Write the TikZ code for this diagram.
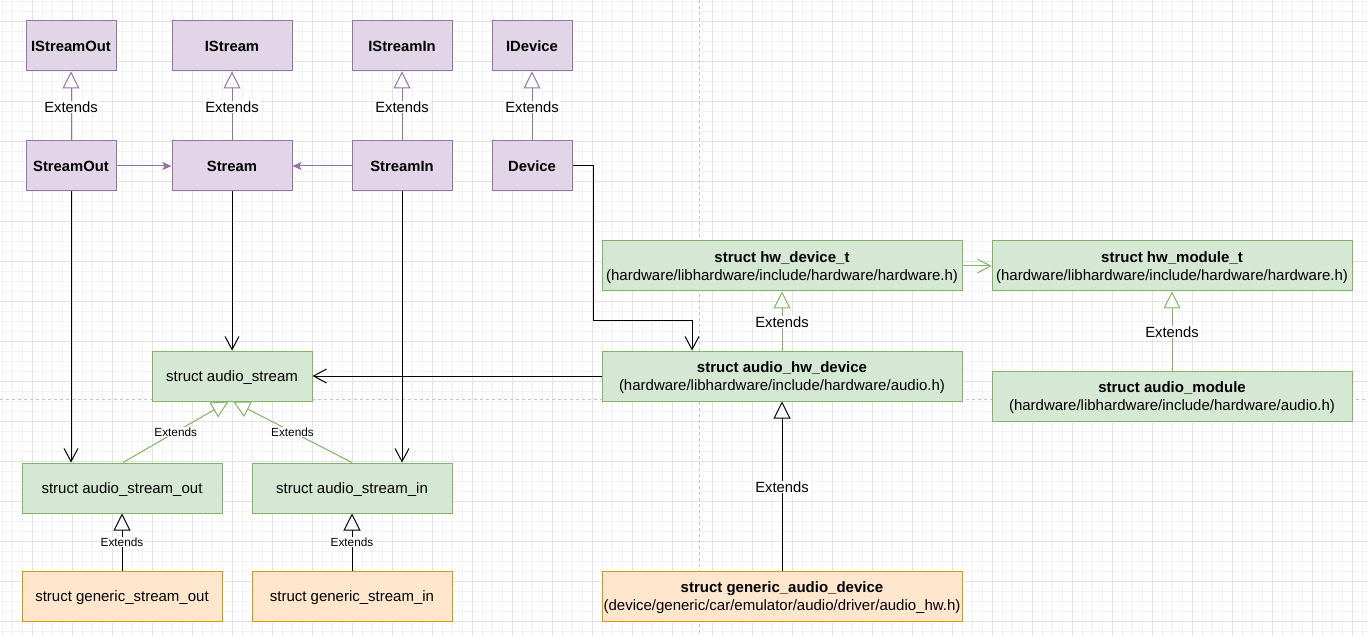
\documentclass[tikz,border=0pt]{standalone}
\usepackage{fontspec}
\setmainfont{Liberation Sans}
\usetikzlibrary{arrows.meta}
\definecolor{pfill}{HTML}{E1D5E7}
\definecolor{pstroke}{HTML}{9673A6}
\definecolor{gfill}{HTML}{D5E8D4}
\definecolor{gstroke}{HTML}{82B366}
\definecolor{ofill}{HTML}{FFE6CC}
\definecolor{ostroke}{HTML}{D79B00}
\definecolor{gridminor}{HTML}{F3F3F3}
\definecolor{gridmajor}{HTML}{E3E3E3}
\definecolor{pagebrk}{HTML}{C4C4C4}
\tikzset{
  box/.style={rectangle, draw, line width=1pt, minimum height=50, inner sep=0pt, align=center, text depth=0pt, font=\fontsize{15}{18.3}\selectfont},
  pbox/.style={box, fill=pfill, draw=pstroke, font=\fontsize{14.8}{18.3}\selectfont\bfseries},
  gbox/.style={box, fill=gfill, draw=gstroke},
  obox/.style={box, fill=ofill, draw=ostroke},
  lbl/.style={fill=white, inner sep=1pt, text depth=0pt, yshift=-1pt, font=\fontsize{14.8}{17}\selectfont},
  slbl/.style={fill=white, inner sep=0.5pt, font=\fontsize{11.8}{14}\selectfont},
  ext/.style={line width=1pt, -{Triangle[open, length=17, width=17, fill=white]}},
  assoc/.style={line width=1pt, -{Stealth[length=9, width=8, inset=2]}},
  openarr/.style={line width=1pt, -{Straight Barb[length=13, width=14]}},
}
\begin{document}
\begin{tikzpicture}[x=1pt, y=-1pt]
\useasboundingbox (0,0) rectangle (1368,636);
\fill[white] (0,0) rectangle (1368,636);
% grid
\foreach \i in {0,...,136} \draw[gridminor, line width=0.6pt] ({2.7+10*\i},0) -- ++(0,636);
\foreach \i in {0,...,63} \draw[gridminor, line width=0.6pt] (0,{1+10*\i}) -- ++(1368,0);
\foreach \i in {0,...,33} \draw[gridmajor, line width=0.8pt] ({32.7+40*\i},0) -- ++(0,636);
\foreach \i in {0,...,15} \draw[gridmajor, line width=0.8pt] (0,{21+40*\i}) -- ++(1368,0);
% page breaks
\draw[pagebrk, line width=0.8pt, dash pattern=on 3pt off 3pt] (699.7,0) -- (699.7,636);
\draw[pagebrk, line width=0.8pt, dash pattern=on 3pt off 3pt] (0,399.3) -- (1368,399.3);

% purple nodes
\node[pbox, minimum width=90] (iso) at (71,46) {IStreamOut};
\node[pbox, minimum width=120] (is) at (232,46) {IStream};
\node[pbox, minimum width=100] (isi) at (402,46) {IStreamIn};
\node[pbox, minimum width=80] (idev) at (532,46) {IDevice};
\node[pbox, minimum width=90] (so) at (71,166) {StreamOut};
\node[pbox, minimum width=120] (st) at (232,166) {Stream};
\node[pbox, minimum width=100] (si) at (402,166) {StreamIn};
\node[pbox, minimum width=80] (dev) at (532,166) {Device};

% green nodes
\node[gbox, minimum width=160] (as) at (232,376) {struct audio\_stream};
\node[gbox, minimum width=200] (aso) at (122,488) {struct audio\_stream\_out};
\node[gbox, minimum width=200] (asi) at (352,488) {struct audio\_stream\_in};
\node[gbox, minimum width=360] (hwd) at (782,266) {\textbf{struct hw\_device\_t}\\(hardware/libhardware/include/hardware/hardware.h)};
\node[gbox, minimum width=360] (hwm) at (1172,266) {\textbf{struct hw\_module\_t}\\(hardware/libhardware/include/hardware/hardware.h)};
\node[gbox, minimum width=360] (ahw) at (782,376) {\textbf{struct audio\_hw\_device}\\(hardware/libhardware/include/hardware/audio.h)};
\node[gbox, minimum width=360] (am) at (1172,396) {\textbf{struct audio\_module}\\(hardware/libhardware/include/hardware/audio.h)};

% orange nodes
\node[obox, minimum width=200] (gso) at (122,596) {struct generic\_stream\_out};
\node[obox, minimum width=200] (gsi) at (352,596) {struct generic\_stream\_in};
\node[obox, minimum width=360] (gad) at (782,596) {\textbf{struct generic\_audio\_device}\\(device/generic/car/emulator/audio/driver/audio\_hw.h)};

% purple extends
\draw[ext, pstroke] (so) -- node[lbl, text=black] {Extends} (iso);
\draw[ext, pstroke] (st) -- node[lbl, text=black] {Extends} (is);
\draw[ext, pstroke] (si) -- node[lbl, text=black] {Extends} (isi);
\draw[ext, pstroke] (dev) -- node[lbl, text=black] {Extends} (idev);
% purple associations
\draw[assoc, pstroke] (so) -- (st);
\draw[assoc, pstroke] (si) -- (st);

% black associations
\draw[openarr] (so.south) -- (so.south |- aso.north);
\draw[openarr] (st) -- (as);
\draw[openarr] (si.south) -- (si.south |- asi.north);
\coordinate (k1) at (593,321);
\draw[openarr] (dev.east) -| (k1) -| ([xshift=-90]ahw.north);
\draw[openarr] (ahw.west) -- (as.east);

% green extends to audio_stream
\draw[ext, gstroke] ([xshift=1]aso.north) -- node[slbl, text=black] {Extends} ([xshift=-3.5]as.south);
\draw[ext, gstroke] (asi.north) -- node[slbl, text=black] {Extends} ([xshift=1]as.south);

% black small extends
\draw[ext] (gso) -- node[slbl] {Extends} (aso);
\draw[ext] (gsi) -- node[slbl] {Extends} (asi);

% hardware
\draw[openarr, gstroke] (hwd) -- (hwm);
\draw[ext, gstroke] (ahw) -- node[lbl, text=black] {Extends} (hwd);
\draw[ext, gstroke] (am) -- node[lbl, text=black] {Extends} (hwm);
\draw[ext] (gad) -- node[lbl] {Extends} (ahw);
\end{tikzpicture}
\end{document}
